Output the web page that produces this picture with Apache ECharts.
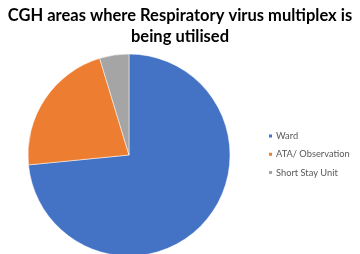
<!DOCTYPE html>
<html>
<head>
<meta charset="utf-8">
<script src="https://cdn.jsdelivr.net/npm/echarts@6/dist/echarts.min.js"></script>
<style>html,body{margin:0;padding:0;background:#fff;}#c{width:360px;height:254px;}</style>
</head>
<body>
<div id="c"></div>
<script>
var categories = ['Ward', 'ATA/ Observation', 'Short Stay Unit'];
var values = [47, 14, 3];
var colors = ['#4472C4', '#ED7D31', '#A5A5A5'];
var titleText = 'CGH areas where Respiratory virus multiplex is\nbeing utilised';

var chart = echarts.init(document.getElementById('c'), null, {renderer: 'canvas'});
chart.setOption({
  animation: false,
  title: {
    text: titleText,
    left: 'center',
    top: 0,
    textStyle: {fontFamily: 'Lato', fontWeight: 'bold', fontSize: 16.5, color: '#000', lineHeight: 21}
  },
  legend: {
    orient: 'vertical',
    left: 267,
    top: 130,
    padding: 0,
    itemWidth: 5,
    itemHeight: 5,
    itemGap: 6.3,
    icon: 'rect',
    data: categories,
    textStyle: {fontFamily: 'Lato', fontSize: 9.3, color: '#595959', lineHeight: 12, padding: [0, 0, 0, -2]}
  },
  series: [{
    type: 'pie',
    center: [129, 155],
    radius: 101,
    startAngle: 90,
    clockwise: true,
    label: {show: false},
    labelLine: {show: false},
    itemStyle: {borderColor: '#fff', borderWidth: 0.5},
    data: categories.map(function (c, i) { return {name: c, value: values[i], itemStyle: {color: colors[i]}}; })
  }]
});
</script>
</body>
</html>
